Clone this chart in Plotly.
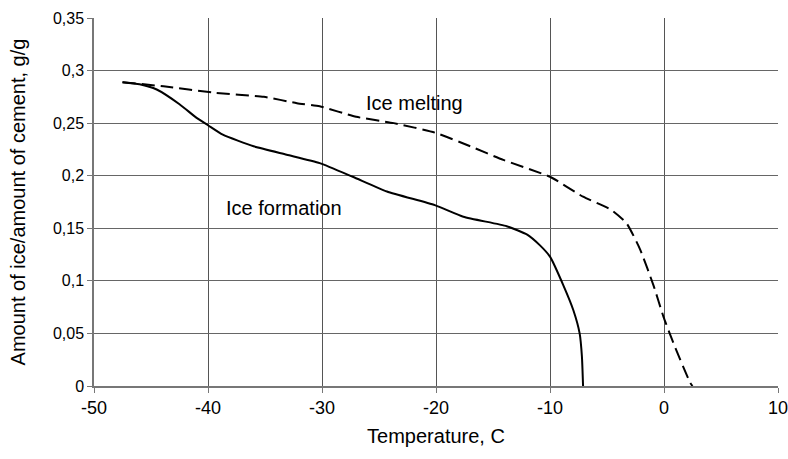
import plotly.graph_objects as go

# Ice formation (solid)
form_t = [-47.5, -46.0, -44.5, -42.5, -41.0, -40.0, -38.7, -36.0, -33.1, -30.2, -27.3,
          -24.3, -20.1, -17.6, -13.8, -12.0, -10.9, -10.0, -8.8, -7.95, -7.4, -7.2, -7.1]
form_v = [0.289, 0.287, 0.282, 0.268, 0.255, 0.248, 0.239, 0.228, 0.220, 0.212, 0.199,
          0.185, 0.172, 0.161, 0.152, 0.144, 0.134, 0.123, 0.095, 0.072, 0.050, 0.028, 0.0]

# Ice melting (dashed)
melt_t = [-47.5, -43.9, -39.5, -35.1, -32.2, -30.2, -27.0, -23.7, -20.1, -17.0, -14.1,
          -10.0, -7.1, -4.7, -3.3, -2.1, -0.9, -0.05, 0.82, 2.3, 2.5]
melt_v = [0.289, 0.285, 0.279, 0.275, 0.269, 0.266, 0.256, 0.250, 0.241, 0.228, 0.215,
          0.199, 0.180, 0.168, 0.155, 0.130, 0.095, 0.066, 0.041, 0.003, 0.0]

y_ticks = [0, 0.05, 0.1, 0.15, 0.2, 0.25, 0.3, 0.35]
y_labels = ["0", "0,05", "0,1", "0,15", "0,2", "0,25", "0,3", "0,35"]
x_ticks = [-50, -40, -30, -20, -10, 0, 10]
x_labels = ["-50", "-40", "-30", "-20", "-10", "0", "10"]

FONT = "Liberation Sans, Arial, sans-serif"

fig = go.Figure()
fig.add_trace(go.Scatter(x=form_t, y=form_v, mode="lines",
                         line=dict(color="black", width=2, shape="spline", smoothing=0.5),
                         showlegend=False))
fig.add_trace(go.Scatter(x=melt_t, y=melt_v, mode="lines",
                         line=dict(color="black", width=2, dash="13px,6px", shape="spline", smoothing=0.5),
                         showlegend=False))

fig.add_annotation(x=-21.9, y=0.2695, text="Ice melting", showarrow=False,
                   font=dict(family=FONT, size=20, color="black"))
fig.add_annotation(x=-33.3, y=0.1695, text="Ice formation", showarrow=False,
                   font=dict(family=FONT, size=20, color="black"))

fig.update_layout(
    width=788, height=459, autosize=False,
    margin=dict(l=94, r=10, t=18, b=73),
    plot_bgcolor="white", paper_bgcolor="white",
    font=dict(family=FONT, size=16, color="black"),
)
fig.update_xaxes(range=[-50, 10], tickvals=x_ticks, ticktext=x_labels, ticks="outside", ticklen=5,
                 tickcolor="#777", showgrid=True, gridcolor="#555", gridwidth=1,
                 showline=True, linecolor="#777", linewidth=1.5, zeroline=False,
                 automargin=False, ticklabeloverflow="allow",
                 title=dict(text="Temperature, C", font=dict(size=20), standoff=12),
                 tickfont=dict(size=18))
fig.update_yaxes(range=[0, 0.35], tickvals=y_ticks, ticktext=y_labels, ticks="outside",
                 ticklen=5, tickcolor="#777", showgrid=True, gridcolor="#666", gridwidth=1,
                 showline=True, linecolor="#777", linewidth=1.5, zeroline=False,
                 automargin=False,
                 title=dict(text="Amount of ice/amount of cement, g/g", font=dict(size=20), standoff=22),
                 tickfont=dict(size=16))

fig.write_html("out.html")
